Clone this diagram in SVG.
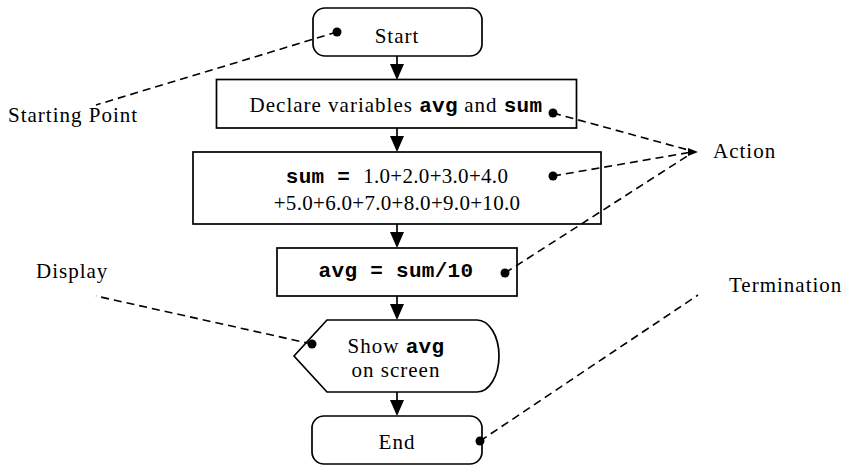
<svg xmlns="http://www.w3.org/2000/svg" width="848" height="466" viewBox="0 0 848 466">
<defs>
<style>
.box{fill:#fff;stroke:#000;stroke-width:1.7}
.t{font-family:"Liberation Serif","Times New Roman",serif;font-size:21px;fill:#000;letter-spacing:1px}
.n{letter-spacing:0.3px}
.m{font-family:"Liberation Mono","Courier New",monospace;font-weight:bold;font-size:21px;letter-spacing:0.3px}
.c{text-anchor:middle}
.flow{stroke:#000;stroke-width:1.7;fill:none}
.head{fill:#000}
.dash{stroke:#000;stroke-width:1.6;stroke-dasharray:8,5;fill:none}
.dot{fill:#000}
</style>
</defs>
<rect width="848" height="466" fill="#fff"/>
<g id="connectors">
<line class="flow" x1="397" y1="56" x2="397" y2="66"/>
<polygon class="head" points="390,64 404,64 397,80"/>
<line class="flow" x1="397" y1="128" x2="397" y2="138"/>
<polygon class="head" points="390,136 404,136 397,152"/>
<line class="flow" x1="397" y1="224" x2="397" y2="234"/>
<polygon class="head" points="390,232 404,232 397,248"/>
<line class="flow" x1="397" y1="296" x2="397" y2="306"/>
<polygon class="head" points="390,304 404,304 397,320"/>
<line class="flow" x1="397" y1="392" x2="397" y2="402"/>
<polygon class="head" points="390,400 404,400 397,416"/>
</g>
<g id="start">
<rect class="box" x="313" y="8" width="169" height="48" rx="12"/>
<text class="t c" x="397" y="43">Start</text>
</g>
<g id="declare">
<rect class="box" x="216.5" y="79.5" width="360" height="48.5"/>
<text class="t c" x="396" y="112">Declare variables <tspan class="m">avg</tspan> and <tspan class="m">sum</tspan></text>
</g>
<g id="sum">
<rect class="box" x="193" y="152" width="408" height="72"/>
<text class="t n c" x="397" y="183"><tspan class="m">sum = </tspan>1.0+2.0+3.0+4.0</text>
<text class="t n c" x="397" y="210">+5.0+6.0+7.0+8.0+9.0+10.0</text>
</g>
<g id="avg">
<rect class="box" x="277" y="248" width="240" height="48"/>
<text class="m c" x="396" y="277">avg = sum/10</text>
</g>
<g id="display">
<path class="box" d="M294,356 L327,320 L477,320 A22,36 0 0 1 477,392 L327,392 Z"/>
<text class="t c" x="396" y="353">Show <tspan class="m">avg</tspan></text>
<text class="t c" x="396" y="377">on screen</text>
</g>
<g id="end">
<rect class="box" x="312" y="416" width="170" height="48" rx="12"/>
<text class="t c" x="397" y="449">End</text>
</g>
<g id="annotations">
<line class="dash" x1="337" y1="32" x2="96" y2="105"/>
<line class="dash" x1="553" y1="113" x2="692" y2="151"/>
<line class="dash" x1="553" y1="176" x2="692" y2="152"/>
<line class="dash" x1="505" y1="273" x2="692" y2="153"/>
<polygon class="head" points="688,148 698,152 688,156"/>
<line class="dash" x1="312" y1="344" x2="96" y2="296"/>
<line class="dash" x1="480" y1="441" x2="698" y2="295"/>
<circle class="dot" cx="337" cy="32" r="4.5"/>
<circle class="dot" cx="553" cy="113" r="4.5"/>
<circle class="dot" cx="553" cy="176" r="4.5"/>
<circle class="dot" cx="505" cy="273" r="4.5"/>
<circle class="dot" cx="312" cy="344" r="4.5"/>
<circle class="dot" cx="480" cy="441" r="4.5"/>
<text class="t" x="8" y="122">Starting Point</text>
<text class="t" x="36" y="278">Display</text>
<text class="t" x="713" y="158">Action</text>
<text class="t" x="729" y="292">Termination</text>
</g>
</svg>
